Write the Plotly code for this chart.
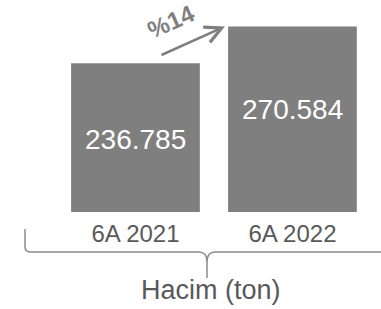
import plotly.graph_objects as go

# ---- data ----
categories = ["6A 2021", "6A 2022"]
values = [236785, 270584]
value_labels = ["236.785", "270.584"]
growth_label = "<b>%14</b>"
axis_title = "Hacim (ton)"

# ---- styling ----
W, H = 381, 309
MB = 97                      # bottom margin (px)
PLOT_H = H - MB
BAR_COLOR = "#7F7F7F"
TEXT_COLOR = "#595959"
LINE_COLOR = "#8C8C8C"
FONT = "Liberation Sans, Arial, sans-serif"
BAR_WIDTH = 0.82
label_shift = [-76, -83]     # vertical offset of value labels from bar tops (px)


def px_x(p):
    return p / W


def px_y(p):
    return (PLOT_H - p) / PLOT_H


fig = go.Figure()
fig.add_trace(go.Bar(
    x=categories, y=values, width=BAR_WIDTH,
    marker=dict(color=BAR_COLOR, line=dict(width=0)),
    hoverinfo="skip",
))

annotations = []
for cat, v, lab, dy in zip(categories, values, value_labels, label_shift):
    annotations.append(dict(
        x=cat, y=v, xref="x", yref="y", text=lab, showarrow=False,
        yanchor="middle", yshift=dy,
        font=dict(family=FONT, size=28, color="white"),
    ))

# growth arrow from bar 1 to bar 2
annotations.append(dict(
    x=1 - BAR_WIDTH / 2 - 0.02, y=values[1], xref="x", yref="y",
    ax=0.156, ay=values[0] + 7000, axref="x", ayref="y",
    showarrow=True, arrowhead=5, arrowsize=1.3, arrowwidth=2.5,
    arrowcolor=BAR_COLOR, standoff=0, text="",
))
annotations.append(dict(
    x=px_x(171), y=px_y(22), xref="paper", yref="paper",
    text=growth_label, showarrow=False, textangle=-24,
    xanchor="center", yanchor="middle",
    font=dict(family=FONT, size=24, color=BAR_COLOR),
))
annotations.append(dict(
    x=px_x(211), y=px_y(290), xref="paper", yref="paper",
    text=axis_title, showarrow=False, xanchor="center", yanchor="middle",
    font=dict(family=FONT, size=27, color=TEXT_COLOR),
))

# curly bracket under the categories
path = (
    f"M {px_x(25)},{px_y(229)} L {px_x(25)},{px_y(247)} "
    f"Q {px_x(25)},{px_y(252)} {px_x(31)},{px_y(252)} "
    f"L {px_x(199)},{px_y(252)} Q {px_x(207)},{px_y(252)} {px_x(207)},{px_y(262)} "
    f"L {px_x(207)},{px_y(278)} M {px_x(207)},{px_y(262)} "
    f"Q {px_x(207)},{px_y(252)} {px_x(215)},{px_y(252)} L {px_x(381)},{px_y(252)}"
)
shapes = [dict(type="path", xref="paper", yref="paper", path=path,
               line=dict(color=LINE_COLOR, width=1.5))]

fig.update_layout(
    width=W, height=H,
    margin=dict(l=0, r=0, t=0, b=MB, pad=0),
    paper_bgcolor="white", plot_bgcolor="white",
    showlegend=False,
    annotations=annotations, shapes=shapes,
    xaxis=dict(range=[-0.863, 1.564], showgrid=False, zeroline=False,
               showline=False, ticks="", fixedrange=True,
               ticklabelstandoff=5,
               tickfont=dict(family=FONT, size=24, color=TEXT_COLOR)),
    yaxis=dict(range=[100000, 295000], visible=False, fixedrange=True),
)

fig.write_html(
    "out.html",
    config={"displayModeBar": False},
    post_script="document.body.style.margin='0';document.body.style.overflow='hidden';",
)
